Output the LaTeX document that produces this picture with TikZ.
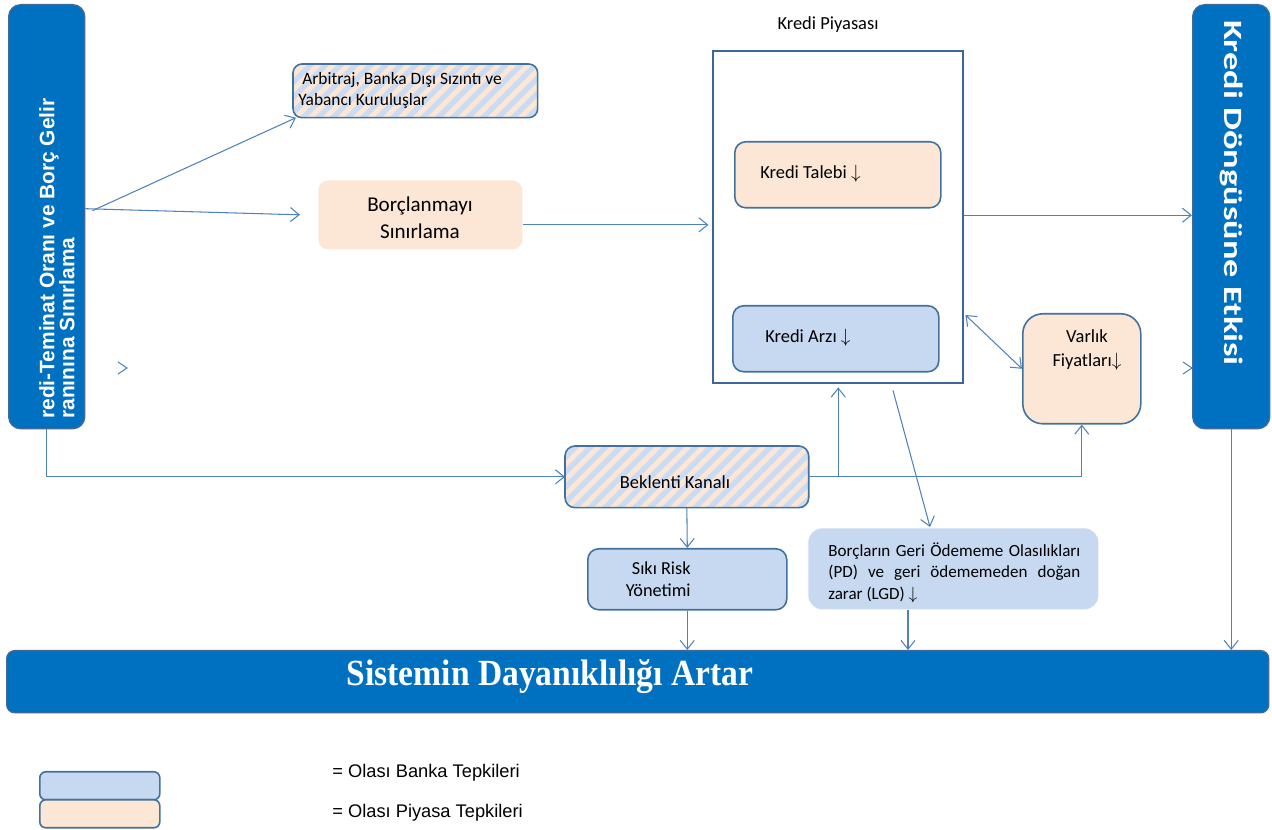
\documentclass[tikz,border=0pt]{standalone}
\usepackage{fontspec}
\setmainfont{Carlito}
\newfontfamily\arialf{Liberation Sans}
\newfontfamily\timesbf[FakeStretch=0.91]{Liberation Serif}
\newfontfamily\tallcal[FakeStretch=1.38]{Carlito}
\usetikzlibrary{arrows.meta,calc}
\definecolor{barblue}{HTML}{0070C0}
\definecolor{barborder}{HTML}{3F6A98}
\definecolor{lightblue}{HTML}{C6D9F1}
\definecolor{stripeblue}{HTML}{CBDCF2}
\definecolor{peach}{HTML}{FCE6D6}
\definecolor{boxborder}{HTML}{41719C}
\definecolor{connc}{HTML}{4F81BD}
\definecolor{kpborder}{HTML}{3E6696}
\newcommand\stripefill[2]{%
  \fill[peach, rounded corners=#2] (#1.south west) rectangle (#1.north east);
  \begin{scope}
    \clip[rounded corners=#2] (#1.south west) rectangle (#1.north east);
    \foreach \k in {-7,...,18}{
      \draw[stripeblue, line width=3pt] ($(#1.south west)+(\k*15,10)$) -- ++(90,-90);
    }
  \end{scope}
  \draw[boxborder, line width=0.9pt, rounded corners=#2] (#1.south west) rectangle (#1.north east);}
\tikzset{
  sz/.style 2 args={minimum width=#1*0.02cm, minimum height=#2*0.02cm, inner sep=0pt, anchor=north west},
  bar/.style={fill=barblue, draw=barborder, line width=0.8pt, rounded corners=0.24cm},
  bankbox/.style={fill=lightblue, draw=boxborder, line width=0.9pt, rounded corners=0.22cm},
  mktbox/.style={fill=peach, draw=boxborder, line width=0.9pt, rounded corners=0.22cm},
  conn/.style={draw=connc, line width=0.6pt, -{Straight Barb[length=5pt,width=8pt]}},
  dconn/.style={draw=connc, line width=0.6pt, {Straight Barb[length=5pt,width=8pt]}-{Straight Barb[length=5pt,width=8pt]}},
  connline/.style={draw=connc, line width=0.6pt},
  txt/.style={inner sep=0pt, font=\fontsize{10.5}{13.6}\selectfont},
}
\begin{document}
\begin{tikzpicture}[x=0.02cm,y=-0.02cm]
\useasboundingbox (0,0) rectangle (1272,830);

% bars
\node[bar, sz={76}{424}] (lb) at (8,4) {};
\node[bar, sz={77}{424}] (rb) at (1192,4) {};
\node[bar, sz={1262}{62}, rounded corners=0.16cm] (bb) at (6,650) {};

% boxes
\node[sz={244}{53}] (arb) at (293,64) {};
\stripefill{arb}{0.18cm}
\node[fill=peach, rounded corners=0.2cm, sz={204}{69}] (bor) at (318,180) {};
\node[draw=kpborder, line width=1.4pt, sz={250}{332}] (kp) at (712,50) {};
\node[mktbox, sz={206}{66}] (kt) at (734,141) {};
\node[bankbox, sz={206}{66}] (ka) at (732,305) {};
\node[mktbox, sz={118}{110}, rounded corners=0.4cm] (var) at (1022,313) {};
\node[sz={243}{61}] (bek) at (565,446) {};
\stripefill{bek}{0.2cm}
\node[bankbox, sz={199}{61}] (sr) at (587,548) {};
\node[fill=lightblue, rounded corners=0.28cm, sz={290}{81}] (pd) at (808,528) {};
\node[bankbox, sz={120}{28}, rounded corners=0.12cm] (lg1) at (39,771) {};
\node[mktbox, sz={120}{28}, rounded corners=0.12cm] (lg2) at (39,799) {};

% texts
\node[txt, text=white, rotate=90, anchor=west, align=left,
      font=\arialf\bfseries\fontsize{11.9}{11.4}\selectfont] (lbt) at (57,419)
      {redi-Teminat Oranı ve Borç Gelir\\ranınına Sınırlama};
\node[txt, text=white, rotate=-90, anchor=west,
      font=\tallcal\bfseries\fontsize{15}{18}\selectfont] (rbt) at (1232,20) {Kredi Döngüsüne Etkisi};
\node[txt, text=white, font=\timesbf\bfseries\fontsize{21}{24}\selectfont] (bbt) at (550,677) {Sistemin Dayanıklılığı Artar};
\node[txt, anchor=west, align=left, font=\fontsize{9.9}{11.9}\selectfont] (arbt) at (298,90)
      {\ Arbitraj, Banka Dışı Sızıntı ve\\Yabancı Kuruluşlar};
\node[txt, align=center, font=\fontsize{12}{15.3}\selectfont] (bort) at (420,218) {Borçlanmayı\\Sınırlama};
\node[txt] (kpt) at (828,25) {Kredi Piyasası};
\node[txt, anchor=west] (ktt) at (760,174) {Kredi Talebi $\downarrow$};
\node[txt, anchor=west] (kat) at (765,338) {Kredi Arzı $\downarrow$};
\node[txt, align=center] (vart) at (1087,350) {Varlık\\Fiyatları$\downarrow$};
\node[txt] (bekt) at (675,482) {Beklenti Kanalı};
\node[txt, align=right, anchor=east, font=\fontsize{10.4}{12.5}\selectfont] (srt) at (691,579) {Sıkı Risk\\Yönetimi};
\node[txt, anchor=north west, align=left, font=\fontsize{9.7}{12.5}\selectfont] (pdt) at (828,542)
      {\makebox[5.04cm][s]{Borçların Geri Ödememe Olasılıkları}\\
       \makebox[5.04cm][s]{(PD) ve geri ödememeden doğan}\\
       zarar (LGD) $\downarrow$};
\node[txt, anchor=west, font=\arialf\fontsize{10.4}{11}\selectfont] (lg1t) at (332,773) {= Olası Banka Tepkileri};
\node[txt, anchor=west, font=\arialf\fontsize{10.4}{11}\selectfont] (lg2t) at (332,813) {= Olası Piyasa Tepkileri};

% connectors
\draw[conn] ($(lb.east)+(7,-6)$) -- ($(arb.south west)+(3,0)$);
\draw[conn] ($(lb.east)+(0,-8)$) -- ($(bor.west)+(-18,0)$);
\draw[conn, shorten >=2pt] ($(bor.east)+(0,10)$) coordinate (b1) -- (b1 -| kp.west);
\draw[conn] ($(kp.east)+(0,-2)$) coordinate (k1) -- (k1 -| rb.west);
\draw[dconn] ($(kp.north east)+(1,265)$) -- (var.west);
\draw[conn] (lb.south) |- (bek.west);
\draw[conn] (bek.east) -| (var.south);
\draw[conn] (kp.south |- bek.east) -- ($(kp.south)+(0,3)$);
\draw[conn] ($(kp.south west)+(181,6)$) -- ($(pd.north west)+(122,-1)$);
\draw[conn] (bek.south) -- (sr.north);
\draw[conn] (sr.south) -- (sr.south |- bb.north);
\draw[conn] ($(pd.south west)+(100,0)$) coordinate (p1) -- (p1 |- bb.north);
\draw[conn] (rb.south) -- (rb.south |- bb.north);
% stray arrow heads
\draw[connline] (118,362) -- (127,368) -- (118,374);
\draw[connline] (1183,362) -- (1192,368) -- (1183,374);
\end{tikzpicture}
\end{document}
